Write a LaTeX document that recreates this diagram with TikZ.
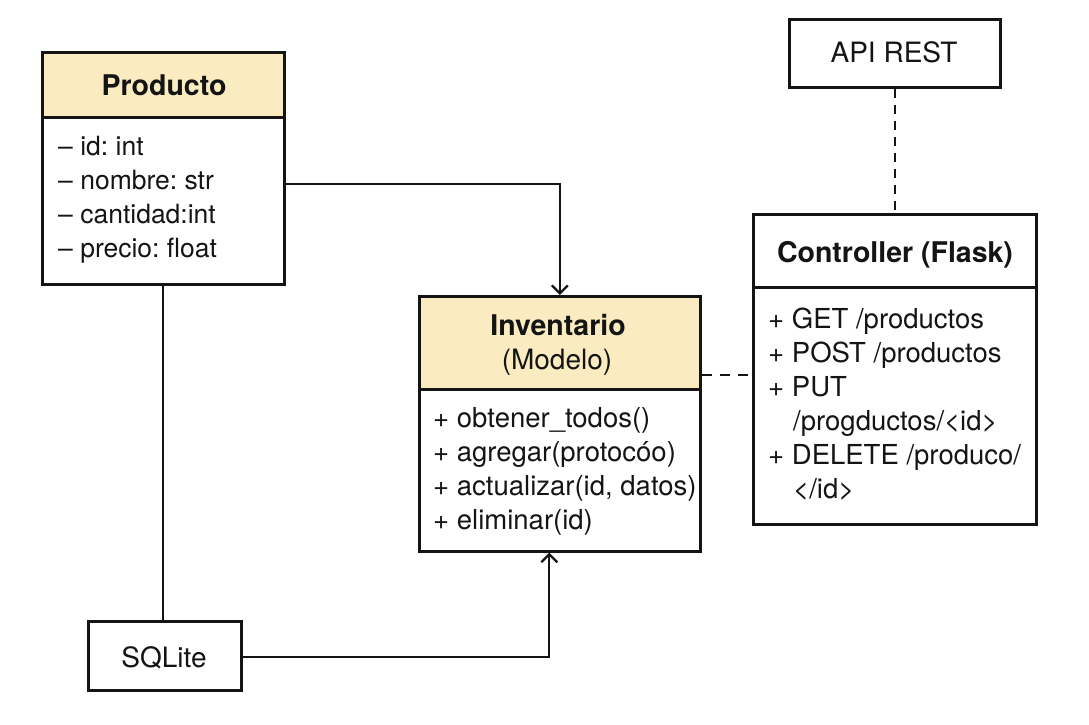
\documentclass[tikz,border=0pt]{standalone}
\usepackage{fontspec}
\setmainfont{TeX Gyre Heros}
\usetikzlibrary{arrows.meta}
\definecolor{hdrfill}{HTML}{FBEBC0}
\definecolor{ink}{HTML}{141414}
\frenchspacing
\begin{document}
\begin{tikzpicture}[x=1pt,y=-1pt,
  box/.style={draw=ink, line width=2.6pt, rectangle, inner sep=0pt, anchor=north west},
  hdr/.style={box, fill=hdrfill},
  txt/.style={anchor=base west, inner sep=0pt, text=ink, font=\fontsize{27.5}{34}\selectfont},
  atxt/.style={txt, font=\fontsize{26.5}{34}\selectfont},
  ctxt/.style={anchor=base, inner sep=0pt, text=ink, font=\fontsize{28}{34}\selectfont},
  btxt/.style={ctxt, font=\fontsize{28.5}{34}\selectfont\bfseries},
  conn/.style={draw=ink, line width=2.3pt},
  arr/.style={conn, -{Straight Barb[length=8pt,width=16pt,line width=2.3pt]}},
  dsh/.style={conn, dash pattern=on 10pt off 8pt}
]
\useasboundingbox (0,0) rectangle (1089,724);

% Producto
\node[hdr, minimum width=242pt, minimum height=65pt] (prodH) at (41,51) {};
\node[box, minimum width=242pt, minimum height=167pt] (prodB) at (41,116) {};
\node[btxt] (prodT) at (164,95) {Producto};
\node[atxt] (p1) at (58,155) {– id: int};
\node[atxt] (p2) at (58,189) {– nombre: str};
\node[atxt] (p3) at (58,223) {– cantidad:int};
\node[atxt] (p4) at (58,257) {– precio: float};

% Inventario
\node[hdr, minimum width=281pt, minimum height=93pt] (invH) at (418,295) {};
\node[box, minimum width=281pt, minimum height=162pt] (invB) at (418,388) {};
\node[btxt] (invT) at (558,335) {Inventario};
\node[ctxt] (invS) at (557,369) {(Modelo)};
\node[txt] (i1) at (433,427) {+ obtener\_todos()};
\node[txt] (i2) at (433,461) {+ agregar(protocóo)};
\node[txt] (i3) at (433,495) {+ actualizar(id, datos)};
\node[txt] (i4) at (433,529) {+ eliminar(id)};

% Controller
\node[box, fill=white, minimum width=283pt, minimum height=73pt] (ctrlH) at (752,213) {};
\node[box, minimum width=283pt, minimum height=237pt] (ctrlB) at (752,286) {};
\node[btxt] (ctrlT) at (895,262) {Controller (Flask)};
\node[txt] (c1) at (768,328) {+ GET /productos};
\node[txt] (c2) at (768,362) {+ POST /productos};
\node[txt] (c3) at (768,396) {+ PUT};
\node[txt] (c4) at (793,430) {/progductos/<id>};
\node[txt] (c5) at (768,464) {+ DELETE /produco/};
\node[txt] (c6) at (793,498) {</id>};

% API REST
\node[box, minimum width=211pt, minimum height=68pt] (api) at (788,18) {};
\node[ctxt] (apiT) at (894,62) {API REST};

% SQLite
\node[box, minimum width=153pt, minimum height=69pt] (sql) at (87,620) {};
\node[ctxt] (sqlT) at (164,667) {SQLite};

% connectors
\draw[arr] ([yshift=16.5pt]prodB.east) -| (invH.north);
\draw[conn] (prodB.south) -- (prodB.south |- sql.north);
\draw[arr] ([yshift=-1.5pt]sql.east) -| ([xshift=-10.5pt]invB.south);
\draw[dsh] ([yshift=-32.5pt]invH.east) coordinate (d1) -- (d1 -| ctrlH.west);
\draw[conn, dash pattern=on 9pt off 7pt] (api.south) -- (ctrlH.north);
\end{tikzpicture}
\end{document}
